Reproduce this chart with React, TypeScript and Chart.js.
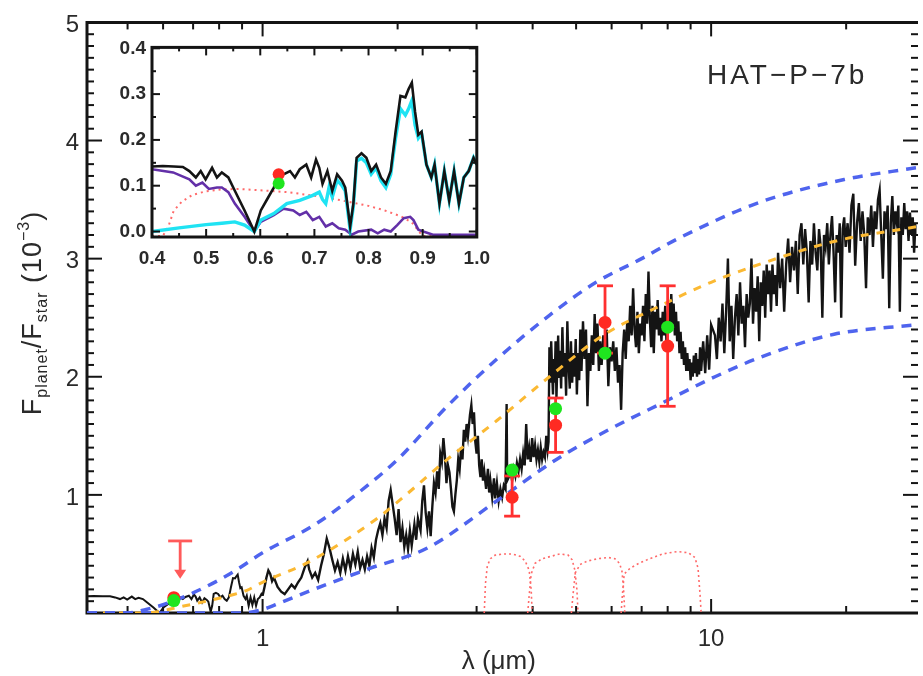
import React, { useEffect, useRef } from "react";
import { Chart, registerables } from "chart.js";
Chart.register(...registerables);

const FONT = '"Liberation Sans", Arial, Helvetica, sans-serif';

// ---------------- main panel data (x in micron, y in 1e-3) ----------------
const specAX = [0.40,0.42,0.44,0.457,0.469,0.481,0.49,0.499,0.511,0.52,0.529,0.541,0.553,0.571,0.589,0.601,0.613,0.625,0.634,0.643,0.655,0.664,0.673,0.685,0.694,0.703,0.709,0.715,0.724,0.733,0.742,0.751,0.757,0.766,0.772,0.778,0.787,0.796,0.805,0.814,0.823,0.832,0.841,0.85,0.859,0.868,0.874,0.88,0.886,0.892,0.898,0.907,0.916,0.922,0.931,0.94,0.949,0.958,0.967,0.976,0.985,0.994,1.0];
const specAY = [0.142,0.143,0.142,0.141,0.132,0.118,0.132,0.114,0.139,0.118,0.129,0.118,0.089,0.046,0.0,0.046,0.071,0.096,0.118,0.125,0.132,0.118,0.136,0.146,0.118,0.157,0.139,0.104,0.132,0.089,0.125,0.111,0.096,0.011,0.061,0.161,0.171,0.161,0.132,0.146,0.118,0.104,0.132,0.218,0.296,0.293,0.311,0.325,0.261,0.211,0.218,0.146,0.118,0.146,0.061,0.132,0.068,0.132,0.061,0.118,0.132,0.161,0.146];

const specBX = [1.01,1.02,1.03,1.04,1.05,1.06,1.08,1.10,1.12,1.14,1.16,1.18,1.20,1.22,1.24,1.26,1.27,1.29,1.31,1.33,1.35,1.37,1.39,1.41,1.43,1.45,1.47,1.49,1.51,1.53,1.55,1.57,1.59,1.61,1.63,1.65,1.67,1.69,1.71,1.73,1.75,1.77,1.79,1.81,1.83,1.85,1.87,1.89,1.91,1.93,1.95,1.97,1.99];
const specBY = [0.22,0.3,0.36,0.33,0.27,0.3,0.22,0.18,0.16,0.2,0.24,0.21,0.26,0.3,0.38,0.44,0.37,0.3,0.34,0.28,0.4,0.5,0.63,0.55,0.45,0.36,0.43,0.34,0.46,0.36,0.48,0.38,0.5,0.41,0.52,0.38,0.45,0.37,0.48,0.4,0.55,0.47,0.62,0.7,0.76,0.66,0.8,0.72,0.95,1.04,0.92,0.8,0.66];

const specCX = [2.01,2.03,2.05,2.07,2.09,2.11,2.13,2.15,2.18,2.2,2.22,2.25,2.27,2.29,2.31,2.33,2.35,2.37,2.39,2.41,2.43,2.45,2.47,2.49,2.51,2.53,2.55,2.57,2.59,2.61,2.63,2.65,2.67,2.69,2.71,2.73,2.75,2.77,2.79,2.81,2.83,2.85,2.87,2.9,2.92,2.94,2.96,2.98,3.0,3.02,3.04,3.06,3.08,3.1,3.12,3.15,3.18,3.2,3.22,3.25,3.28,3.3,3.33,3.36,3.39,3.42,3.45,3.48,3.5,3.51,3.54,3.57,3.6,3.63,3.66,3.69,3.72,3.75,3.78,3.81,3.84,3.87,3.9,3.93,3.96,3.99,4.02,4.05,4.08,4.11,4.14,4.17,4.2,4.23,4.26,4.29,4.32,4.34];
const specCY = [0.88,0.6,0.72,0.56,0.66,0.54,0.7,0.57,0.75,0.62,0.8,0.7,0.95,1.08,0.85,0.72,0.86,0.65,0.9,1.1,1.02,1.2,1.05,1.35,1.28,1.48,1.33,1.1,1.25,1.19,1.05,0.9,0.86,1.0,1.12,1.3,1.22,1.4,1.3,1.55,1.45,1.6,1.5,1.68,1.76,1.6,1.7,1.45,1.35,1.5,1.25,1.15,1.3,1.12,1.2,1.05,1.22,1.02,1.12,0.98,1.14,0.97,1.1,0.95,1.05,0.98,1.08,1.05,1.77,1.12,1.15,1.2,1.12,1.22,1.16,1.27,1.2,1.3,1.22,1.35,1.25,1.6,1.3,1.4,1.28,1.48,1.32,1.42,1.3,1.38,1.28,1.4,1.3,1.36,1.32,1.5,1.38,1.45];

const specDX = [4.36,4.38,4.4,4.42,4.44,4.46,4.48,4.5,4.52,4.54,4.56,4.58,4.6,4.63,4.66,4.69,4.72,4.75,4.78,4.81,4.84,4.87,4.9,4.93,4.96,4.99,5.02,5.05,5.08,5.11,5.14,5.18,5.22,5.26,5.3,5.34,5.38,5.42,5.46,5.5,5.54,5.58,5.62,5.66,5.7,5.75,5.8,5.85,5.9,5.95,6.0,6.05,6.1,6.15,6.2,6.25,6.3,6.35,6.4,6.45,6.5,6.55,6.6,6.65,6.7,6.75,6.8,6.85,6.9,6.95,7.0,7.05,7.1,7.15,7.2,7.25,7.3,7.35,7.4,7.45,7.5,7.55,7.6,7.65,7.7,7.75,7.8,7.85,7.9,7.95,8.0,8.05,8.1,8.15,8.2,8.25,8.3,8.35,8.4,8.45,8.5,8.55,8.6,8.65,8.7,8.75,8.8,8.85,8.9,8.95,9.0,9.05,9.1,9.15,9.2,9.25,9.3,9.35,9.4,9.45,9.5,9.6,9.7,9.8,9.9,10.0];
const specDY = [2.25,1.95,2.3,2.05,1.85,2.15,1.95,2.3,1.82,2.1,2.35,2.0,2.22,1.9,2.42,2.0,2.2,1.84,2.47,2.1,1.9,2.3,1.95,2.2,2.0,2.32,1.85,2.2,1.97,2.4,2.05,2.47,2.15,2.4,1.75,2.2,2.05,2.35,2.1,2.53,2.2,2.45,2.05,2.3,2.1,2.35,2.2,2.4,1.92,2.25,2.13,2.3,2.05,2.25,1.95,2.1,1.72,2.2,2.4,2.15,2.47,2.3,2.6,2.35,2.75,2.4,2.25,2.55,2.2,2.45,2.35,2.6,2.3,2.7,2.45,2.89,2.5,2.25,2.6,2.2,2.55,2.4,2.65,2.35,2.5,2.3,2.55,2.35,2.6,2.3,2.5,2.65,2.4,2.7,2.45,2.62,2.35,2.55,2.3,2.47,2.2,2.38,2.15,2.3,2.1,2.25,2.05,2.2,2.05,2.15,1.97,2.12,2.0,2.18,2.03,2.2,2.0,2.15,2.02,2.25,2.05,2.3,2.03,2.35,2.06,2.44];

const specEX = [10.2,10.3,10.4,10.5,10.6,10.7,10.8,10.9,11.0,11.1,11.2,11.3,11.4,11.5,11.6,11.7,11.8,11.9,12.0,12.1,12.2,12.3,12.4,12.5,12.6,12.7,12.8,12.9,13.0,13.1,13.2,13.3,13.4,13.5,13.6,13.7,13.8,13.9,14.0,14.1,14.25,14.4,14.55,14.7,14.85,15.0,15.15,15.3,15.45,15.6,15.75,15.9,16.05,16.2,16.35,16.5,16.65,16.8,16.95,17.1,17.25,17.4,17.55,17.7,17.85,18.0,18.15,18.3,18.45,18.6,18.75,18.9,19.05,19.2,19.35,19.5,19.65,19.8,19.95,20.15,20.35,20.55,20.75,20.95,21.15,21.35,21.55,21.75,21.95,22.15,22.35,22.55,22.75,22.95,23.15,23.35,23.55,23.75,23.95,24.15,24.35,24.55,24.75,24.95,25.15,25.35,25.55,25.75,25.95,26.15,26.35,26.55,26.75,26.95,27.15,27.35,27.55,27.75,27.95,28.15,28.35,28.55,28.7];
const specEY = [2.35,2.15,2.5,2.3,2.62,2.2,2.55,3.0,2.3,2.6,2.15,2.5,2.7,2.35,2.8,2.45,2.6,2.25,2.7,2.5,2.62,3.0,2.45,2.75,2.55,2.85,2.3,2.8,2.6,2.9,2.5,2.95,2.7,2.9,2.55,2.95,2.7,2.86,2.6,3.05,2.75,3.0,2.55,2.95,3.17,2.8,3.1,2.9,3.15,2.7,3.2,3.3,2.95,3.25,3.05,2.63,3.15,2.95,3.3,3.05,2.9,3.25,3.1,2.5,3.2,3.1,3.3,2.95,3.2,3.36,3.05,2.63,3.2,3.05,3.3,2.5,3.25,3.35,3.1,3.3,3.05,3.45,3.55,2.94,3.3,3.47,3.15,3.4,3.2,2.75,3.35,3.2,3.45,3.1,3.4,3.25,3.5,3.58,3.2,2.83,3.4,3.25,3.45,2.58,3.3,3.53,3.2,3.4,3.3,3.45,2.55,3.35,3.2,3.47,3.25,3.4,3.15,3.39,3.2,3.35,3.05,3.3,3.2];

const blueUpX = [0.406,0.5,0.55,0.6,0.65,0.7,0.8,0.87,1.0,1.31,1.74,2.0,2.58,3.33,4.36,5.54,7.0,8.44,12.9,19.8,28.7];
const blueUpY = [0.0,0.0,0.03,0.07,0.12,0.17,0.28,0.36,0.51,0.75,1.1,1.3,1.75,2.15,2.52,2.8,3.0,3.17,3.48,3.67,3.77];
const blueLoX = [0.406,0.7,0.9,1.0,1.1,1.28,1.74,2.33,3.33,4.52,5.9,7.8,10.2,13.4,18.8,28.7];
const blueLoY = [0.0,0.0,0.0,0.03,0.09,0.19,0.38,0.55,0.95,1.3,1.55,1.78,2.0,2.19,2.36,2.44];
const bbX = [0.406,0.55,0.6,0.65,0.75,0.85,0.92,1.0,1.28,1.8,2.0,2.58,3.33,4.36,5.74,7.5,10.0,13.0,19.0,28.7];
const bbY = [0.0,0.0,0.02,0.05,0.1,0.15,0.19,0.26,0.44,0.8,0.94,1.3,1.63,2.0,2.35,2.58,2.8,2.96,3.15,3.27];

const irac1X = [3.12,3.14,3.17,3.22,3.3,3.45,3.6,3.75,3.85,3.93,3.97,3.99];
const irac1Y = [0,0.25,0.4,0.46,0.49,0.5,0.5,0.48,0.44,0.36,0.2,0];
const irac2X = [3.9,3.93,3.97,4.05,4.2,4.4,4.6,4.8,4.9,4.97,5.02,5.05];
const irac2Y = [0,0.15,0.33,0.42,0.46,0.48,0.5,0.49,0.45,0.36,0.2,0];
const irac3X = [4.88,4.92,4.98,5.1,5.3,5.6,5.9,6.1,6.25,6.33,6.38,6.42];
const irac3Y = [0,0.15,0.34,0.41,0.44,0.46,0.47,0.46,0.42,0.35,0.2,0];
const irac4X = [6.3,6.34,6.4,6.6,6.9,7.3,7.8,8.4,8.9,9.2,9.35,9.45,9.5];
const irac4Y = [0,0.15,0.33,0.38,0.42,0.46,0.5,0.52,0.51,0.47,0.38,0.15,0];

const obsX = [0.634, 3.6, 4.5, 5.8, 8.0];
const obsY = [0.13, 0.98, 1.59, 2.46, 2.26];
const errX = [3.6, 4.5, 5.8, 8.0];
const errLo = [0.82, 1.36, 2.2, 1.75];
const errHi = [1.16, 1.82, 2.77, 2.77];
const modelX = [0.634, 3.6, 4.5, 5.8, 8.0];
const modelY = [0.105, 1.21, 1.73, 2.2, 2.42];
const limitX = [0.655];
const limitTop = [0.61];
const limitTip = [0.29];

const xMajorTicks = [1, 10];
const xMinorTicks = [0.5, 0.6, 0.7, 0.8, 0.9, 2, 3, 4, 5, 6, 7, 8, 9, 20];
const yMajorTicks = [1, 2, 3, 4, 5];

// ---------------- inset data ----------------
const cyanX = [0.4,0.45,0.5,0.529,0.553,0.571,0.589,0.601,0.625,0.649,0.673,0.697,0.709,0.715,0.721,0.727,0.733,0.742,0.751,0.757,0.766,0.772,0.778,0.787,0.796,0.805,0.814,0.823,0.832,0.841,0.85,0.859,0.868,0.874,0.88,0.886,0.892,0.898,0.907,0.916,0.922,0.931,0.94,0.949,0.958,0.967,0.976,0.985,0.994,1.0];
const cyanY = [0.0,0.008,0.015,0.018,0.021,0.014,0.0,0.025,0.039,0.061,0.068,0.079,0.086,0.07,0.061,0.096,0.075,0.112,0.1,0.089,0.004,0.055,0.154,0.16,0.15,0.125,0.139,0.111,0.096,0.125,0.204,0.268,0.254,0.268,0.286,0.232,0.204,0.214,0.146,0.118,0.146,0.061,0.132,0.068,0.132,0.061,0.118,0.132,0.161,0.146];
const purpleX = [0.4,0.439,0.469,0.481,0.493,0.505,0.52,0.529,0.541,0.553,0.571,0.589,0.601,0.625,0.643,0.661,0.673,0.685,0.697,0.709,0.721,0.733,0.745,0.757,0.769,0.781,0.805,0.817,0.829,0.841,0.853,0.865,0.877,0.883,0.892,0.901,0.919,1.0];
const purpleY = [0.136,0.129,0.114,0.1,0.107,0.093,0.096,0.096,0.086,0.061,0.032,0.0,0.021,0.036,0.05,0.046,0.036,0.043,0.025,0.032,0.011,0.018,0.007,0.004,-0.007,0.0,0.004,-0.004,0.004,0.0,0.014,0.029,0.032,0.025,0.004,0.0,-0.007,-0.007];
const keplerX = [0.4,0.42,0.43,0.44,0.455,0.475,0.5,0.53,0.56,0.6,0.65,0.7,0.75,0.8,0.83,0.86,0.88,0.89,0.9,0.95,1.0];
const keplerY = [-0.01,-0.01,0.01,0.045,0.065,0.08,0.088,0.092,0.093,0.09,0.086,0.078,0.068,0.056,0.046,0.033,0.02,0.005,-0.01,-0.01,-0.01];
const insetObsX = [0.634];
const insetObsY = [0.125];
const insetModelX = [0.634];
const insetModelY = [0.105];
const insetXTicks = [0.4, 0.5, 0.6, 0.7, 0.8, 0.9, 1.0];
const insetYTicks = [0.0, 0.1, 0.2, 0.3, 0.4];

// ---------------- colours ----------------
const BLUE = "#4f64ee";
const ORANGE = "#fbb933";
const RED = "#ff2a22";
const ERR_RED = "#ff3030";
const LIMIT_RED = "#ff5a5a";
const GREEN = "#1fe51f";
const FILTER_RED = "#ff6a6a";
const CYAN = "#1fe3f3";
const PURPLE = "#6330a8";
const INK = "#141414";
const TEXT = "#2a2a2a";

const pts = (xs: number[], ys: number[]) => xs.map((x, i) => ({ x, y: ys[i] }));

function seg(ctx: CanvasRenderingContext2D, x1: number, y1: number, x2: number, y2: number) {
  ctx.beginPath();
  ctx.moveTo(x1, y1);
  ctx.lineTo(x2, y2);
  ctx.stroke();
}

const mainPlugin = {
  id: "mainDecor",
  beforeDatasetsDraw(chart: any) {
    const { ctx, chartArea: a, scales } = chart;
    const xs = scales.x, ys = scales.y;
    const right = a.right + 1.5;
    ctx.save();
    ctx.strokeStyle = INK;
    ctx.lineWidth = 2;
    xMajorTicks.forEach((v) => {
      const p = xs.getPixelForValue(v);
      seg(ctx, p, a.bottom, p, a.bottom - 14);
      seg(ctx, p, a.top, p, a.top + 14);
    });
    xMinorTicks.forEach((v) => {
      const p = xs.getPixelForValue(v);
      seg(ctx, p, a.bottom, p, a.bottom - 7);
      seg(ctx, p, a.top, p, a.top + 7);
    });
    for (let i = 0; i <= 50; i++) {
      const p = ys.getPixelForValue(i / 10);
      const L = i % 10 === 0 ? 15 : 7;
      seg(ctx, a.left, p, a.left + L, p);
      seg(ctx, right, p, right - L, p);
    }
    ctx.lineWidth = 3;
    ctx.beginPath();
    ctx.moveTo(right, a.top);
    ctx.lineTo(a.left, a.top);
    ctx.lineTo(a.left, a.bottom);
    ctx.lineTo(right, a.bottom);
    ctx.stroke();
    ctx.restore();
  },
  beforeDatasetDraw(chart: any, args: any) {
    if (args.index !== 1) return;
    const { ctx, scales } = chart;
    const xs = scales.x, ys = scales.y;
    ctx.save();
    ctx.strokeStyle = ERR_RED;
    ctx.lineWidth = 2.8;
    errX.forEach((v, i) => {
      const px = xs.getPixelForValue(v);
      const t = ys.getPixelForValue(errHi[i]);
      const b = ys.getPixelForValue(errLo[i]);
      seg(ctx, px, t, px, b);
      seg(ctx, px - 8, t, px + 8, t);
      seg(ctx, px - 8, b, px + 8, b);
    });
    ctx.strokeStyle = LIMIT_RED;
    ctx.fillStyle = LIMIT_RED;
    limitX.forEach((v, i) => {
      const px = xs.getPixelForValue(v);
      const t = ys.getPixelForValue(limitTop[i]);
      const tip = ys.getPixelForValue(limitTip[i]);
      seg(ctx, px - 12, t, px + 12, t);
      seg(ctx, px, t, px, tip - 8);
      ctx.beginPath();
      ctx.moveTo(px - 6, tip - 9);
      ctx.lineTo(px + 6, tip - 9);
      ctx.lineTo(px, tip);
      ctx.closePath();
      ctx.fill();
    });
    ctx.restore();
  },
  afterDraw(chart: any) {
    const { ctx, chartArea: a } = chart;
    ctx.save();
    ctx.fillStyle = TEXT;
    ctx.font = `26px ${FONT}`;
    ctx.textAlign = "center";
    ctx.textBaseline = "middle";
    ctx.fillText("λ (μm)", (a.left + a.right) / 2 - 3, 662);
    ctx.textAlign = "left";
    ctx.textBaseline = "alphabetic";
    ctx.font = `28px ${FONT}`;
    (ctx as any).letterSpacing = "3px";
    ctx.fillText("HAT−P−7b", 707, 84);
    (ctx as any).letterSpacing = "1px";
    const big = `27px ${FONT}`, small = `16px ${FONT}`;
    const parts = [
      { t: "F", f: big, dy: 0 },
      { t: "planet", f: small, dy: 6 },
      { t: "/F", f: big, dy: 0 },
      { t: "star", f: small, dy: 6 },
      { t: " (10", f: big, dy: 0 },
      { t: "−3", f: small, dy: -12 },
      { t: ")", f: big, dy: 0 },
    ];
    let total = 0;
    const widths = parts.map((p) => {
      ctx.font = p.f;
      const w = ctx.measureText(p.t).width;
      total += w;
      return w;
    });
    ctx.translate(41, 313);
    ctx.rotate(-Math.PI / 2);
    let cx = -total / 2;
    parts.forEach((p, i) => {
      ctx.font = p.f;
      ctx.fillText(p.t, cx, p.dy);
      cx += widths[i];
    });
    ctx.restore();
  },
};

const insetPlugin = {
  id: "insetDecor",
  beforeDraw(chart: any) {
    const { ctx, chartArea: a } = chart;
    ctx.save();
    ctx.fillStyle = "#ffffff";
    ctx.fillRect(a.left - 2, a.top - 2, a.right - a.left + 4, a.bottom - a.top + 4);
    ctx.restore();
  },
  afterDraw(chart: any) {
    const { ctx, chartArea: a, scales } = chart;
    const xs = scales.x, ys = scales.y;
    ctx.save();
    ctx.strokeStyle = INK;
    ctx.lineWidth = 2;
    for (let i = 0; i <= 12; i++) {
      const p = xs.getPixelForValue(0.4 + i * 0.05);
      const L = i % 2 === 0 ? 8 : 4;
      seg(ctx, p, a.bottom, p, a.bottom - L);
      seg(ctx, p, a.top, p, a.top + L);
    }
    for (let i = 0; i <= 8; i++) {
      const p = ys.getPixelForValue(i * 0.05);
      const L = i % 2 === 0 ? 8 : 4;
      seg(ctx, a.left, p, a.left + L, p);
      seg(ctx, a.right, p, a.right - L, p);
    }
    ctx.lineWidth = 3;
    ctx.strokeRect(a.left, a.top, a.right - a.left, a.bottom - a.top);
    ctx.restore();
  },
};

function lineDs(data: any, color: string, width: number, order: number, extra: any = {}) {
  return {
    data,
    showLine: true,
    borderColor: color,
    borderWidth: width,
    pointRadius: 0,
    fill: false,
    order,
    ...extra,
  };
}

export default function App() {
  const mainRef = useRef<HTMLCanvasElement>(null);
  const insetRef = useRef<HTMLCanvasElement>(null);

  useEffect(() => {
    document.body.style.margin = "0";
    const optical = pts(specAX, specAY);
    const infrared = [
      optical[optical.length - 1],
      ...pts(specBX, specBY),
      ...pts(specCX, specCY),
      ...pts(specDX, specDY),
      ...pts(specEX, specEY),
    ];
    const main = new Chart(mainRef.current as HTMLCanvasElement, {
      type: "scatter",
      data: {
        datasets: [
          { data: pts(modelX, modelY), pointRadius: 6.5, pointBackgroundColor: GREEN, pointBorderWidth: 0, showLine: false, order: 0 },
          { data: pts(obsX, obsY), pointRadius: 6.5, pointBackgroundColor: RED, pointBorderWidth: 0, showLine: false, order: 1 },
          lineDs(pts(blueLoX, blueLoY), BLUE, 3.5, 2, { borderDash: [10, 8], cubicInterpolationMode: "monotone" }),
          lineDs(pts(blueUpX, blueUpY), BLUE, 3.5, 3, { borderDash: [10, 8], cubicInterpolationMode: "monotone" }),
          lineDs(pts(bbX, bbY), ORANGE, 3, 4, { borderDash: [8, 8], cubicInterpolationMode: "monotone" }),
          lineDs(pts(irac1X, irac1Y), FILTER_RED, 1.6, 5, { borderDash: [2, 3] }),
          lineDs(pts(irac2X, irac2Y), FILTER_RED, 1.6, 6, { borderDash: [2, 3] }),
          lineDs(pts(irac3X, irac3Y), FILTER_RED, 1.6, 7, { borderDash: [2, 3] }),
          lineDs(pts(irac4X, irac4Y), FILTER_RED, 1.6, 8, { borderDash: [2, 3] }),
          lineDs(infrared, INK, 2.4, 9),
          lineDs(optical, INK, 2, 10),
        ],
      },
      options: {
        responsive: false,
        animation: false,
        devicePixelRatio: 1,
        events: [],
        layout: { padding: { top: 12, right: 0, left: 0, bottom: 0 } },
        plugins: { legend: { display: false }, tooltip: { enabled: false } },
        scales: {
          x: {
            type: "logarithmic",
            min: 0.406,
            max: 28.7,
            afterBuildTicks: (s: any) => { s.ticks = xMajorTicks.map((v) => ({ value: v })); },
            afterFit: (s: any) => { s.height = 63; },
            grid: { display: false, drawTicks: false },
            border: { display: false },
            ticks: {
              callback: (v: any) => String(v),
              font: { family: FONT, size: 24 },
              color: TEXT,
              padding: 12,
              maxRotation: 0,
              autoSkip: false,
            },
          },
          y: {
            type: "linear",
            min: 0,
            max: 5,
            afterBuildTicks: (s: any) => { s.ticks = yMajorTicks.map((v) => ({ value: v })); },
            afterFit: (s: any) => { s.width = 87; },
            grid: { display: false, drawTicks: false },
            border: { display: false },
            ticks: {
              callback: (v: any) => String(v),
              font: { family: FONT, size: 24 },
              color: TEXT,
              padding: 8,
              labelOffset: 3,
              autoSkip: false,
            },
          },
        },
      },
      plugins: [mainPlugin],
    } as any);

    const inset = new Chart(insetRef.current as HTMLCanvasElement, {
      type: "scatter",
      data: {
        datasets: [
          { data: pts(insetModelX, insetModelY), pointRadius: 6, pointBackgroundColor: GREEN, pointBorderWidth: 0, showLine: false, order: 0 },
          { data: pts(insetObsX, insetObsY), pointRadius: 6, pointBackgroundColor: RED, pointBorderWidth: 0, showLine: false, order: 1 },
          lineDs(pts(specAX, specAY), INK, 2.6, 2),
          lineDs(pts(cyanX, cyanY), CYAN, 3.4, 3),
          lineDs(pts(purpleX, purpleY), PURPLE, 2.6, 4),
          lineDs(pts(keplerX, keplerY), FILTER_RED, 2, 5, { borderDash: [2, 4] }),
        ],
      },
      options: {
        responsive: false,
        animation: false,
        devicePixelRatio: 1,
        events: [],
        layout: { padding: { top: 14, right: 15, left: 0, bottom: 0 } },
        plugins: { legend: { display: false }, tooltip: { enabled: false } },
        scales: {
          x: {
            type: "linear",
            min: 0.4,
            max: 1.0,
            afterBuildTicks: (s: any) => { s.ticks = insetXTicks.map((v) => ({ value: v })); },
            afterFit: (s: any) => { s.height = 43; },
            grid: { display: false, drawTicks: false },
            border: { display: false },
            ticks: {
              callback: (v: any) => Number(v).toFixed(1),
              font: { family: FONT, size: 19, weight: "bold" },
              color: TEXT,
              padding: 10,
              maxRotation: 0,
              autoSkip: false,
            },
          },
          y: {
            type: "linear",
            min: -0.012,
            max: 0.402,
            afterBuildTicks: (s: any) => { s.ticks = insetYTicks.map((v) => ({ value: v })); },
            afterFit: (s: any) => { s.width = 52; },
            grid: { display: false, drawTicks: false },
            border: { display: false },
            ticks: {
              callback: (v: any) => Number(v).toFixed(1),
              font: { family: FONT, size: 19, weight: "bold" },
              color: TEXT,
              padding: 6,
              autoSkip: false,
            },
          },
        },
      },
      plugins: [insetPlugin],
    } as any);

    return () => {
      main.destroy();
      inset.destroy();
    };
  }, []);

  return (
    <div style={{ position: "relative", width: 923, height: 676, background: "#ffffff", overflow: "hidden" }}>
      <canvas ref={mainRef} width={923} height={676} style={{ position: "absolute", left: 0, top: 0 }} />
      <canvas ref={insetRef} width={400} height={250} style={{ position: "absolute", left: 100, top: 30 }} />
    </div>
  );
}
